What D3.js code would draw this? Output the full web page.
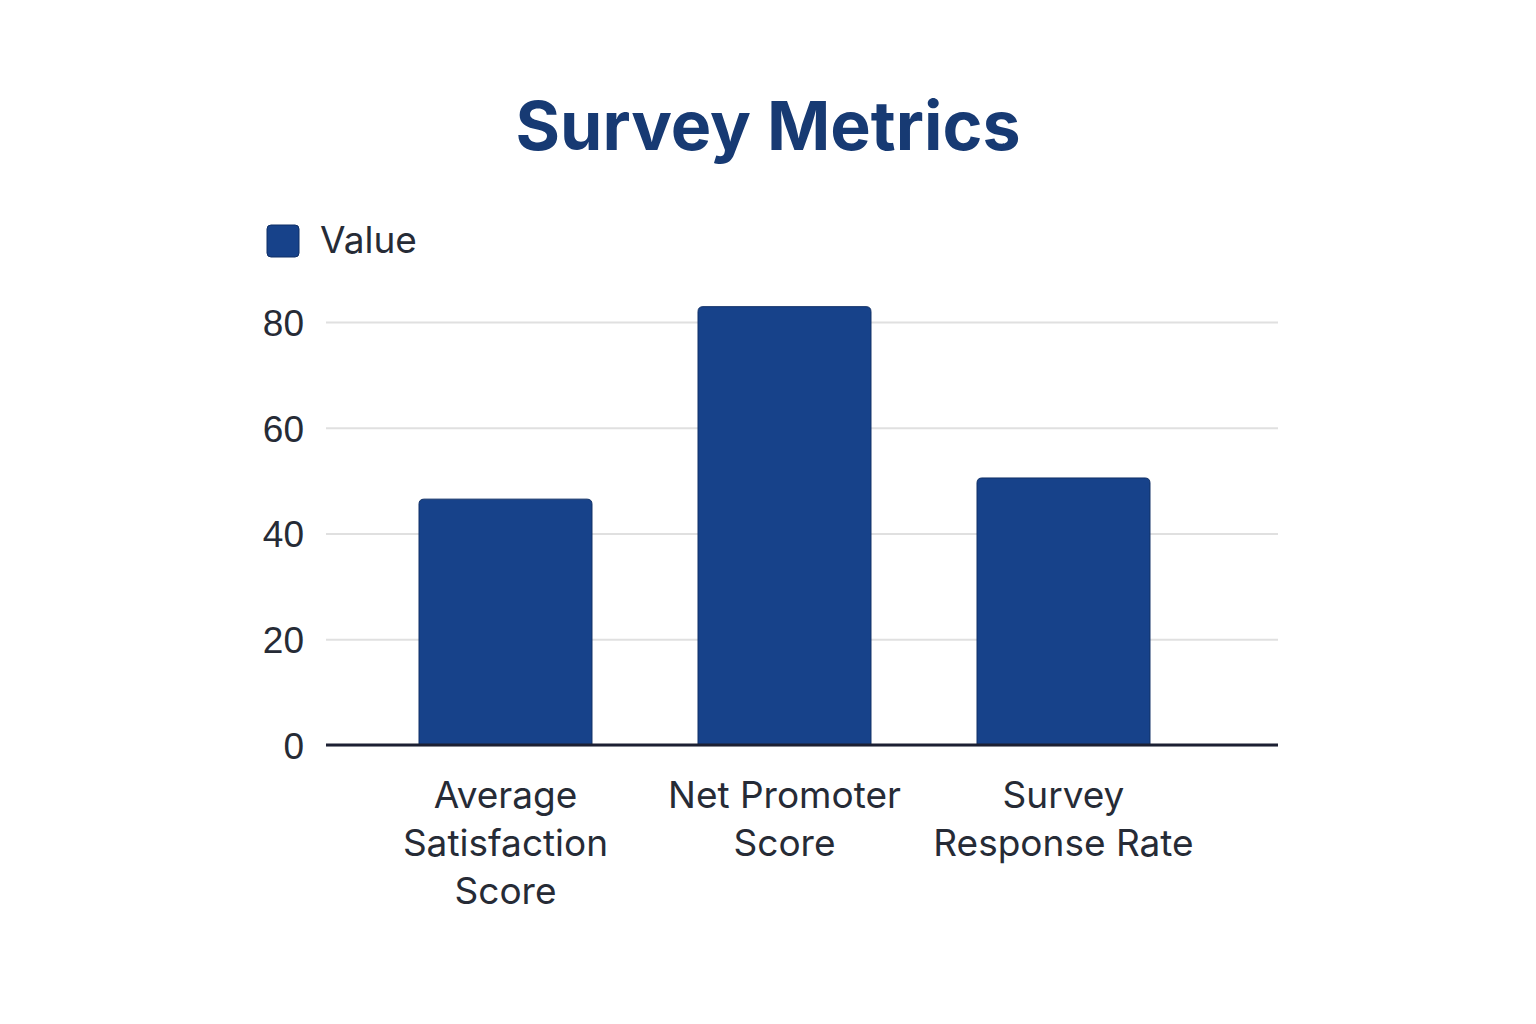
<!DOCTYPE html>
<html>
<head>
<meta charset="utf-8">
<title>Survey Metrics</title>
<style>
  body { margin: 0; background: #fff; }
  svg { display: block; font-family: Inter, "Noto Sans", sans-serif; }
</style>
</head>
<body>
<svg width="1536" height="1024"></svg>
<script src="https://d3js.org/d3.v7.min.js"></script>
<script>

var categories = [
  ["Average", "Satisfaction", "Score"],
  ["Net Promoter", "Score"],
  ["Survey", "Response Rate"]
];
var values = [46.5, 82.9, 50.5];
var yTicks = [0, 20, 40, 60, 80];
var seriesName = "Value";

var barColor = "#17428a",
    textColor = "#262b36";

var svg = d3.select("svg"),
    margin = {top: 322, right: 258, bottom: 279, left: 326},
    width = 1536 - margin.left - margin.right,
    height = 1024 - margin.top - margin.bottom,
    g = svg.append("g").attr("transform", "translate(" + margin.left + "," + margin.top + ")");

var names = categories.map(function(c) { return c.join(" "); });

var x = d3.scaleBand()
    .domain(names)
    .range([40, 877])
    .paddingInner(0.38)
    .paddingOuter(0.19);

var y = d3.scaleLinear()
    .domain([0, 80])
    .range([423, 0]);

// title
svg.append("text")
    .attr("x", 768)
    .attr("y", 150)
    .attr("text-anchor", "middle")
    .attr("fill", "#173a73")
    .attr("font-size", 68)
    .attr("font-weight", 700)
    .text("Survey Metrics");

// legend
svg.append("rect")
    .attr("x", 267).attr("y", 225)
    .attr("width", 32).attr("height", 32)
    .attr("rx", 4)
    .attr("fill", barColor)
    .attr("stroke", "#0f2f66");
svg.append("text")
    .attr("x", 320)
    .attr("y", 253)
    .attr("fill", textColor)
    .attr("font-size", 37)
    .text(seriesName);

// grid + y labels
g.append("g")
    .call(d3.axisLeft(y).tickValues(yTicks).tickSize(-width).tickPadding(22))
    .call(function(a) {
      a.select(".domain").remove();
      a.selectAll(".tick line").attr("stroke", "#e0e0e0").attr("stroke-width", 2);
      a.selectAll(".tick text")
          .attr("fill", textColor)
          .attr("font-size", 37)
          .attr("dy", "0.36em");
    });

// bars with rounded tops
function barPath(d, i) {
  var x0 = x(names[i]), w = x.bandwidth(), y0 = y(d), y1 = y(0), r = 5;
  return "M" + x0 + "," + y1 +
         "V" + (y0 + r) +
         "Q" + x0 + "," + y0 + " " + (x0 + r) + "," + y0 +
         "H" + (x0 + w - r) +
         "Q" + (x0 + w) + "," + y0 + " " + (x0 + w) + "," + (y0 + r) +
         "V" + y1 + "Z";
}

g.selectAll(".bar")
  .data(values)
  .enter().append("path")
    .attr("class", "bar")
    .attr("d", barPath)
    .attr("fill", barColor)
    .attr("stroke", "#0f2f66")
    .attr("stroke-width", 1);

// x axis line
g.append("line")
    .attr("x1", 0).attr("x2", width)
    .attr("y1", y(0)).attr("y2", y(0))
    .attr("stroke", "#1c2033")
    .attr("stroke-width", 3);

// category labels
var lab = g.selectAll(".cat")
  .data(categories)
  .enter().append("text")
    .attr("class", "cat")
    .attr("text-anchor", "middle")
    .attr("fill", textColor)
    .attr("font-size", 37)
    .attr("transform", function(d, i) {
      return "translate(" + (x(names[i]) + x.bandwidth() / 2) + "," + (y(0) + 63) + ")";
    });

lab.selectAll("tspan")
  .data(function(d) { return d; })
  .enter().append("tspan")
    .attr("x", 0)
    .attr("y", function(d, i) { return i * 48; })
    .text(function(d) { return d; });

</script>
</body>
</html>
